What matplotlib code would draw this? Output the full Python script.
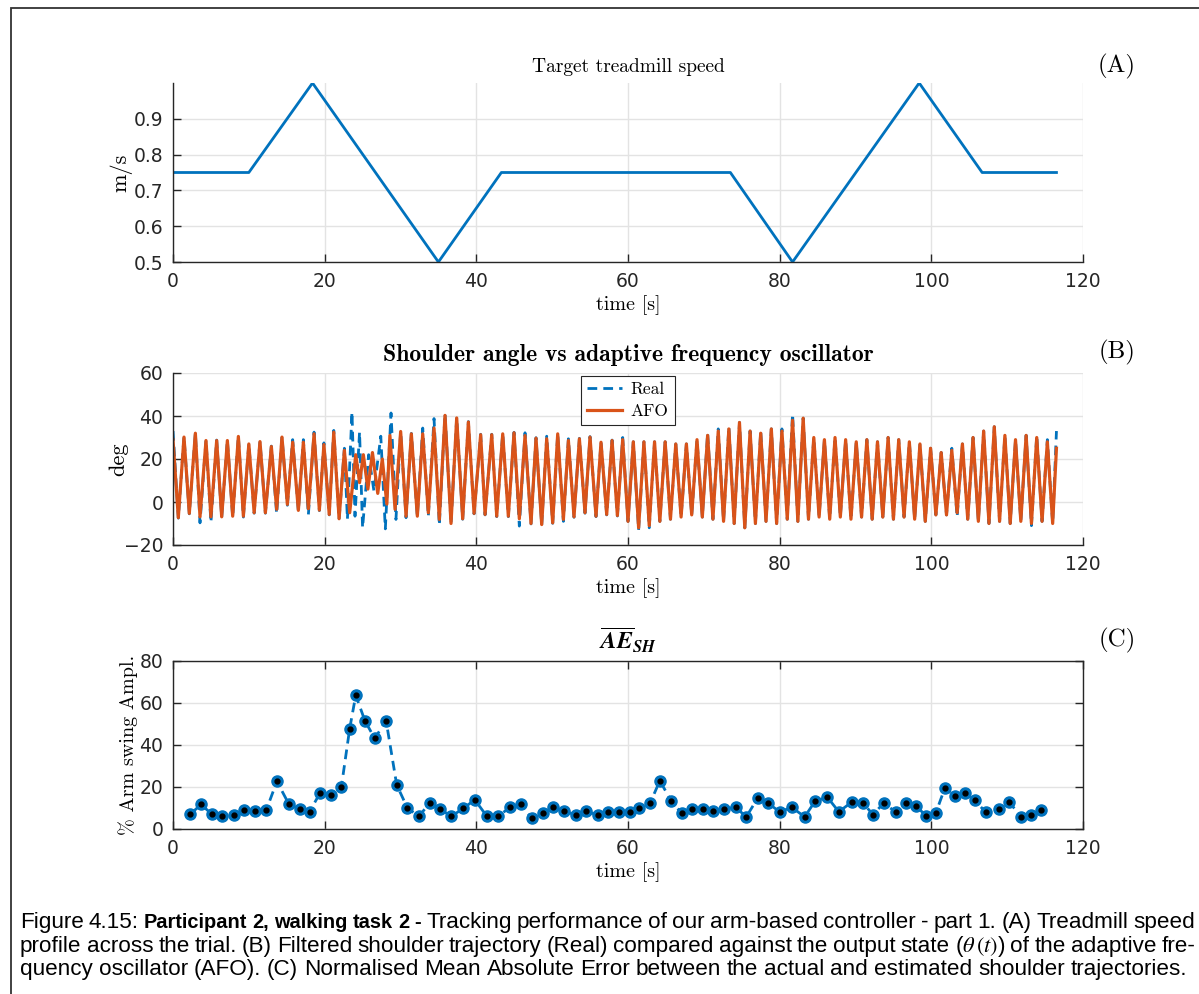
import numpy as np
import matplotlib.pyplot as plt
from matplotlib.transforms import IdentityTransform
from matplotlib.patches import Rectangle

W, H = 1199, 994
BLUE = '#0072BD'
ORANGE = '#D95319'

# (A) target treadmill speed, breakpoints
speed_t = [0, 10.0, 18.4, 35.0, 43.3, 73.5, 81.7, 98.4, 106.7, 116.5]
speed_v = [0.75, 0.75, 1.0, 0.5, 0.75, 0.75, 0.5, 1.0, 0.75, 0.75]

# (B) peaks / troughs of the AFO output
afo_t = [0.0, 0.70, 1.45, 2.15, 2.95, 3.56, 4.35, 5.0, 5.76, 6.42, 7.17, 7.87, 8.62, 9.28,
         10.0, 10.7, 11.47, 12.18, 12.97, 13.67, 14.37, 15.08, 15.78, 16.53, 17.19, 17.85,
         18.6, 19.3, 19.9, 20.6, 21.2, 21.9, 22.6, 23.3, 24.1, 24.6, 25.1, 25.7, 26.3, 27.0,
         27.6, 28.2, 28.6, 29.28, 30.02, 30.73, 31.43, 32.22, 32.93, 33.67, 34.42, 35.12,
         35.87, 36.66, 37.41, 38.2, 38.95, 39.7, 40.57, 41.15, 42.03, 42.69, 43.48, 44.22,
         44.97, 45.67, 46.42, 47.21, 47.87, 48.62, 49.28, 50.07, 50.73, 51.48, 52.14, 52.88,
         53.59, 54.33, 54.99, 55.78, 56.44, 57.19, 57.9, 58.6,
         59.3, 60.0, 60.7, 61.4, 62.1, 62.8, 63.5, 64.2, 64.9, 65.6, 66.3, 67.0, 67.7, 68.4,
         69.1, 69.8, 70.5, 71.2, 71.9, 72.6, 73.3, 74.0, 74.7, 75.4, 76.1, 76.8, 77.5, 78.2,
         78.9, 79.6, 80.3, 81.0, 81.7, 82.4, 83.1, 83.8, 84.5, 85.2, 85.9, 86.6, 87.3, 88.0,
         88.7, 89.4, 90.1, 90.8, 91.5, 92.2, 92.9, 93.6, 94.3, 95.0, 95.7, 96.4, 97.1, 97.8,
         98.5, 99.2, 99.9, 100.6, 101.3, 102.0, 102.7, 103.4, 104.1, 104.8, 105.5, 106.2,
         106.9, 107.6, 108.3, 109.0, 109.7, 110.4, 111.1, 111.8, 112.5, 113.2, 113.9, 114.6,
         115.3, 116.0, 116.5]
afo_v = [29, -7.3, 30.2, -5.3, 32, -6.9, 28.6, -6.9, 28.6, -6.9, 28.6, -6.6, 30.5, -6.6,
         27, -5, 28.1, -5, 25.8, -3.4, 30.2, -1.1, 27.8, -3.9, 27.8, -3.1, 31.7, -3.8,
         26.7, -5.8, 32.5, -7.8, 24, -5, 22, 9, 22, 6, 23, 4, 20, -1, 31, -3.4,
         32.8, -6.6, 31.7, -6.6, 31.7, -5, 34.4, -8.1, 40.3, -10, 39.1, -7.8, 37.2, -5.3,
         31.3, -5.8, 31.3, -6.6, 31.7, -6.6, 32.2, -7.8, 30.9, -10, 29.7, -10.5, 29.4, -9.7,
         31.7, -8.1, 28.6, -6.9, 29.4, -5, 30.2, -6.6, 27.8, -5.8, 28.6, -6.3,
         29, -9, 28, -12, 28, -11, 28, -9, 28, -8, 27, -7, 27, -6, 29, -7, 31, -8, 33, -9,
         34, -10, 37, -12, 33, -10, 32, -9, 34, -10, 33, -8, 38, -9, 39, -8, 30, -7, 29, -8,
         30, -7, 29, -8, 28, -7, 29, -8, 28, -7, 30, -8, 29, -7, 28, -8, 27, -9, 25, -6,
         23, -6, 24, -5, 27, -8, 30, -9, 33, -10, 35, -9, 31, -10, 29, -9, 31, -10, 30, -9,
         28, -10, 25]

# (B) peaks / troughs of the real (filtered) shoulder angle
real_t = [0.0, 0.70, 1.45, 2.15, 2.95, 3.56, 4.35, 5.0, 5.76, 6.42, 7.17, 7.87, 8.62, 9.28,
          10.0, 10.7, 11.47, 12.18, 12.97, 13.67, 14.37, 15.08, 15.78, 16.53, 17.19, 17.85,
          18.6, 19.3, 19.9, 20.6, 21.2, 21.9, 22.6, 23.0, 23.6, 24.0, 24.6, 25.0, 25.8, 26.5,
          27.4, 28.0, 28.75, 29.4, 30.02, 30.73, 31.43, 32.22, 32.93, 33.67, 34.42, 35.12,
          35.87, 36.66, 37.41, 38.2, 38.95, 39.7, 40.57, 41.15, 42.03, 42.69, 43.48, 44.22,
          44.97, 45.67, 46.42, 47.21, 47.87, 48.62, 49.28, 50.07, 50.73, 51.48, 52.14, 52.88,
          53.59, 54.33, 54.99, 55.78, 56.44, 57.19, 57.9, 58.6,
          59.3, 60.0, 60.7, 61.4, 62.1, 62.8, 63.5, 64.2, 64.9, 65.6, 66.3, 67.0, 67.7, 68.4,
          69.1, 69.8, 70.5, 71.2, 71.9, 72.6, 73.3, 74.0, 74.7, 75.4, 76.1, 76.8, 77.5, 78.2,
          78.9, 79.6, 80.3, 81.0, 81.7, 82.4, 83.1, 83.8, 84.5, 85.2, 85.9, 86.6, 87.3, 88.0,
          88.7, 89.4, 90.1, 90.8, 91.5, 92.2, 92.9, 93.6, 94.3, 95.0, 95.7, 96.4, 97.1, 97.8,
          98.5, 99.2, 99.9, 100.6, 101.3, 102.0, 102.7, 103.4, 104.1, 104.8, 105.5, 106.2,
          106.9, 107.6, 108.3, 109.0, 109.7, 110.4, 111.1, 111.8, 112.5, 113.2, 113.9, 114.6,
          115.3, 116.0, 116.5]
real_v = [33, -7.5, 30.5, -5.5, 32.2, -9.7, 28.8, -9.5, 28.8, -7.2, 28.8, -7, 30.7, -7,
          27.2, -5.2, 28.3, -5.2, 26, -5.5, 30.5, -1.5, 29, -4.2, 29, -6, 32.5, -4,
          27.5, -6, 33.3, -8, 25, -8, 41.9, -6.6, 32.5, -12, 22, 5, 30.6, -12.5, 41.4, -8.1,
          33, -7.3, 31.9, -6.8, 34.4, -6.6, 38.8, -10.8, 41.1, -10.2, 39.3, -8, 37.4, -5.5,
          31.5, -6, 31.5, -6.8, 31.9, -6.8, 32.4, -11.2, 32.2, -10.2, 29.9, -10.7, 30.6, -9.9,
          31.9, -9, 29.4, -7.1, 29.6, -5.2, 30.4, -6.8, 28, -6, 28.8, -6.5,
          30, -9, 28, -13, 28, -12, 28, -9, 28, -8, 27, -7, 27, -6, 29, -7, 32, -8, 34, -9,
          35, -10, 37, -12, 33, -10, 33, -9, 34, -10, 34, -8, 41, -9, 39, -8, 30, -7, 29, -8,
          30, -7, 29, -8, 28, -7, 29, -8, 28, -7, 30, -8, 29, -7, 28, -8, 27, -9, 25, -6,
          23, -6, 25, -7, 27, -8, 30, -9, 33, -10, 35, -9, 31, -10, 29, -9, 31, -11, 31, -9,
          29, -10, 33]

# (C) normalised mean absolute error, one value per cycle
err_t = [2.3, 3.7, 5.1, 6.5, 8.0, 9.4, 10.8, 12.3, 13.7, 15.3, 16.7, 18.0, 19.4, 20.8,
         22.2, 23.3, 24.1, 25.3, 26.6, 28.1, 29.5, 30.9, 32.4, 33.9, 35.2, 36.7, 38.3,
         39.8, 41.4, 42.9, 44.5, 45.9, 47.3, 48.8, 50.1, 51.6, 53.2, 54.5, 56.0, 57.4,
         58.8, 60.2, 61.5, 62.9, 64.2, 65.7, 67.1, 68.5, 69.9, 71.2, 72.7, 74.2, 75.6,
         77.1, 78.5, 80.0, 81.6, 83.3, 84.7, 86.3, 87.8, 89.5, 91.0, 92.3, 93.7, 95.3,
         96.7, 98.0, 99.3, 100.6, 101.8, 103.1, 104.4, 105.7, 107.2, 108.9, 110.3,
         111.8, 113.2, 114.5]
err_v = [7.1, 11.7, 7.1, 6.0, 6.6, 9.0, 8.4, 9.0, 22.7, 11.7, 9.6, 8.2, 17.2, 16.1,
         20.0, 47.8, 63.7, 51.6, 43.1, 51.6, 21.0, 10.1, 6.0, 12.5, 9.6, 6.0, 9.9,
         13.9, 6.0, 6.0, 10.6, 11.8, 5.2, 7.4, 10.6, 8.5, 6.6, 8.5, 6.6, 7.9,
         7.9, 7.9, 9.8, 12.2, 23.0, 13.3, 7.4, 9.6, 9.6, 8.5, 9.6, 10.3, 5.8,
         14.7, 12.2, 8.2, 10.3, 5.8, 13.4, 15.1, 8.2, 12.8, 12.3, 6.9, 12.2, 8.2,
         12.3, 10.9, 6.3, 7.7, 19.7, 15.5, 17.2, 13.7, 7.9, 9.5, 12.8,
         5.8, 6.6, 9.0]

caption = [
    [('Figure 4.15:', False), ('Participant 2, walking task 2 -', True),
     ('Tracking performance of our arm-based controller - part 1.  (A) Treadmill speed', False)],
    [('profile across the trial.  (B) Filtered shoulder trajectory (Real) compared against the '
      'output state ($\\theta\\,(t)$) of the adaptive fre-', False)],
    [('quency oscillator (AFO). (C) Normalised Mean Absolute Error between the actual and '
      'estimated shoulder trajectories.', False)],
]

plt.rcParams['font.family'] = 'DejaVu Sans'
plt.rcParams['mathtext.fontset'] = 'stix'
SERIF = 'cmr10'
SERIF_B = 'cmb10'
TICK_FS = 13.5
LAB_FS = 14.5

fig = plt.figure(figsize=(W / 100, H / 100), dpi=100)


def make_axes(top, bottom):
    left, right = 173, 1083
    return fig.add_axes([left / W, 1 - bottom / H, (right - left) / W, (bottom - top) / H])


def style(ax, box=False):
    ax.grid(True, color='#e3e3e3', linewidth=1.0)
    ax.set_axisbelow(True)
    for s in ['top', 'right']:
        ax.spines[s].set_visible(box)
    for s in ax.spines.values():
        s.set_color('#262626')
        s.set_linewidth(1.0)
    ax.tick_params(direction='in', length=6, width=1, color='#262626', pad=7,
                   labelsize=TICK_FS, labelcolor='#262626', right=box, top=box)
    ax.set_xlim(0, 120)
    ax.set_xticks([0, 20, 40, 60, 80, 100, 120])
    ax.set_xlabel('time [s]', family=SERIF, fontsize=LAB_FS, labelpad=3)


# (A)
axA = make_axes(83, 262)
axA.plot(speed_t, speed_v, color=BLUE, lw=2)
axA.set_ylim(0.5, 1.0)
axA.set_yticks([0.5, 0.6, 0.7, 0.8, 0.9])
style(axA)
axA.set_ylabel('m/s', family=SERIF, fontsize=16, labelpad=1)
axA.set_title('Target treadmill speed', family=SERIF, fontsize=14, pad=8)

# (B)
axB = make_axes(373, 545)
axB.plot(real_t, real_v, color=BLUE, lw=2, ls=(0, (3.5, 2.2)), label='Real')
axB.plot(afo_t, afo_v, color=ORANGE, lw=2.3, label='AFO')
axB.set_ylim(-20, 60)
axB.set_yticks([-20, 0, 20, 40, 60])
style(axB)
axB.set_ylabel('deg', family=SERIF, fontsize=16, labelpad=-3)
axB.set_title('Shoulder angle vs adaptive frequency oscillator', family=SERIF_B,
              fontsize=17, pad=9)
leg = axB.legend(loc='upper center', bbox_to_anchor=(0.5, 1.005), prop={'family': SERIF, 'size': 12.5},
                 fancybox=False, edgecolor='#262626', handlelength=2.0, borderpad=0.35,
                 labelspacing=0.4, handletextpad=0.5, framealpha=1, borderaxespad=0.2)
leg.get_frame().set_linewidth(0.8)

# (C)
axC = make_axes(661, 829)
axC.plot(err_t, err_v, color=BLUE, lw=2, ls=(0, (3.5, 2.2)), marker='o', ms=8,
         mfc=BLUE, mec=BLUE)
axC.plot(err_t, err_v, ls='none', marker='o', ms=3.5, color='black')
axC.set_ylim(0, 80)
axC.set_yticks([0, 20, 40, 60, 80])
style(axC, box=True)
axC.set_ylabel('% Arm swing Ampl.', family=SERIF, fontsize=LAB_FS, labelpad=1)
axC.set_title(r'$\overline{\mathbfit{AE}}_{\mathbfit{SH}}$', fontsize=17, pad=8)

# panel letters
for lab, y in [('(A)', 66), ('(B)', 352), ('(C)', 640)]:
    fig.text(1117 / W, 1 - y / H, lab, family=SERIF, fontsize=18, ha='center', va='center')

# frame round the figure
fig.patches.append(Rectangle((11, -20), W + 40, H - 8 + 20, transform=IdentityTransform(),
                             fill=False, edgecolor='#333333', linewidth=1.3))

# caption: justified lines
fig.canvas.draw()
rend = fig.canvas.get_renderer()
CAP_FS = 16.2


def word_text(s, bold):
    return fig.text(0, 0, s, transform=IdentityTransform(), va='baseline',
                    family='Liberation Sans', fontsize=CAP_FS - (1.8 if bold else 0),
                    fontweight='bold' if bold else 'normal')


for line, (y, x_end) in zip(caption, [(928, 1195), (952, 1195), (975, 1187)]):
    words = []
    for chunk, bold in line:
        for w in chunk.split(' '):
            if w:
                words.append(word_text(w, bold))
    widths = [t.get_window_extent(rend).width for t in words]
    gap = (x_end - 20 - sum(widths)) / (len(words) - 1)
    x = 20
    for t, w in zip(words, widths):
        t.set_position((x, H - y))
        x += w + gap

fig.savefig('out.png', dpi=100)
